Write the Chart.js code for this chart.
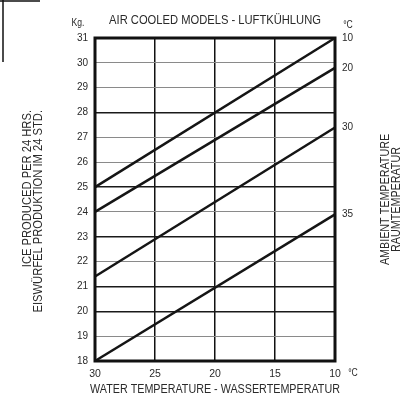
<!DOCTYPE html>
<html>
<head>
<meta charset="utf-8">
<script src="https://cdn.jsdelivr.net/npm/chart.js@4"></script>
<style>
  html, body { margin: 0; padding: 0; background: #fff; }
  #wrap { width: 406px; height: 400px; }
</style>
</head>
<body>
<div id="wrap"><canvas id="iceChart"></canvas></div>
<script>
// water temperature (x, °C) at the two ends of each line
const waterTemps = [30, 10];
// ice production in kg / 24h, one line per ambient temperature
const ambientLabels = ['10', '20', '30', '35'];
const kgAmb10 = [25, 31];
const kgAmb20 = [24, 29.8];
const kgAmb30 = [21.4, 27.4];
const kgAmb35 = [18, 23.9];
const allSeries = [kgAmb10, kgAmb20, kgAmb30, kgAmb35];

const font = "'Liberation Sans', Arial, sans-serif";
const ink = '#2a2a2a';
const squeeze = 0.86; // the scanned lettering is condensed

function toPoints(vals) {
    return waterTemps.map((t, i) => ({ x: t, y: vals[i] }));
}

// draw narrow text: x,y anchor, optional rotation
function narrowText(ctx, lines, x, y, align, rot, lineGap) {
    ctx.save();
    ctx.translate(x, y);
    if (rot) ctx.rotate(rot);
    ctx.scale(squeeze, 1);
    ctx.textAlign = align;
    lines.forEach((t, i) => ctx.fillText(t, 0, i * (lineGap || 0)));
    ctx.restore();
}

// frame, titles and unit labels
const extras = {
    id: 'extras',
    afterDraw(chart) {
        const ctx = chart.ctx;
        const a = chart.chartArea;
        const midX = (a.left + a.right) / 2;
        const midY = (a.top + a.bottom) / 2;
        ctx.save();
        ctx.strokeStyle = '#111';
        ctx.lineWidth = 3;
        ctx.strokeRect(a.left, a.top, a.right - a.left, a.bottom - a.top);

        // scan leftover in the corner
        ctx.lineWidth = 1.5;
        ctx.beginPath();
        ctx.moveTo(0, 1); ctx.lineTo(40, 1);
        ctx.moveTo(3, 0); ctx.lineTo(3, 62);
        ctx.stroke();

        ctx.fillStyle = ink;
        ctx.textBaseline = 'middle';

        ctx.font = '13px ' + font;
        narrowText(ctx, ['AIR COOLED MODELS - LUFTKÜHLUNG'], midX, a.top - 18, 'center');

        ctx.font = '12.5px ' + font;
        narrowText(ctx, ['WATER TEMPERATURE - WASSERTEMPERATUR'], midX, a.bottom + 29, 'center');

        // left title, lines end near the top
        ctx.font = '13px ' + font;
        narrowText(ctx, ['ICE PRODUCED PER 24 HRS.', 'EISWÜRFEL PRODUKTION IM 24 STD.'],
            27, 110, 'right', -Math.PI / 2, 11);

        // right title, centred
        ctx.font = '12.5px ' + font;
        narrowText(ctx, ['AMBIENT TEMPERATURE', 'RAUMTEMPERATUR'],
            386, midY, 'center', -Math.PI / 2, 11);

        ctx.font = '10px ' + font;
        narrowText(ctx, ['Kg.'], a.left - 17, a.top - 15, 'center');
        narrowText(ctx, ['°C'], a.right + 13, a.top - 13, 'center');
        narrowText(ctx, ['°C'], a.right + 18, a.bottom + 12, 'center');
        ctx.restore();
    }
};

const ctx = document.getElementById('iceChart').getContext('2d');
const iceChart = new Chart(ctx, {
    type: 'line',
    data: {
        datasets: allSeries.map((vals, i) => ({
            label: ambientLabels[i] + ' °C',
            data: toPoints(vals),
            borderColor: '#151515',
            borderWidth: 2.5,
            pointRadius: 0,
            fill: false,
            clip: 3,
            yAxisID: 'y'
        }))
    },
    options: {
        responsive: true,
        maintainAspectRatio: false,
        animation: false,
        layout: { padding: { top: 38 } },
        plugins: {
            legend: { display: false },
            tooltip: { enabled: false }
        },
        scales: {
            x: {
                type: 'linear',
                reverse: true,
                min: 10,
                max: 30,
                ticks: { stepSize: 5, color: ink, padding: 7, font: { family: font, size: 10.5 } },
                grid: { color: '#111', lineWidth: 1.5, drawTicks: false },
                border: { display: false },
                afterFit(s) { s.height = 39; }
            },
            y: {
                type: 'linear',
                position: 'left',
                min: 18,
                max: 31,
                ticks: { stepSize: 1, color: ink, padding: 7, font: { family: font, size: 10 } },
                grid: {
                    drawTicks: false,
                    color: c => [20, 21, 23, 25, 28].includes(c.tick && c.tick.value) ? '#1a1a1a' : '#8a8a8a',
                    lineWidth: c => [20, 21, 23, 25, 28].includes(c.tick && c.tick.value) ? 1.5 : 1
                },
                border: { display: false },
                afterFit(s) { s.width = 95; }
            },
            y2: {
                type: 'linear',
                position: 'right',
                min: 18,
                max: 31,
                afterBuildTicks(s) {
                    s.ticks = allSeries.map(v => ({ value: v[v.length - 1] }));
                },
                ticks: {
                    color: ink,
                    padding: 7,
                    font: { family: font, size: 10 },
                    callback: (v, i) => ambientLabels[i]
                },
                grid: { display: false, drawTicks: false },
                border: { display: false },
                afterFit(s) { s.width = 71; }
            }
        }
    },
    plugins: [extras]
});
</script>
</body>
</html>
